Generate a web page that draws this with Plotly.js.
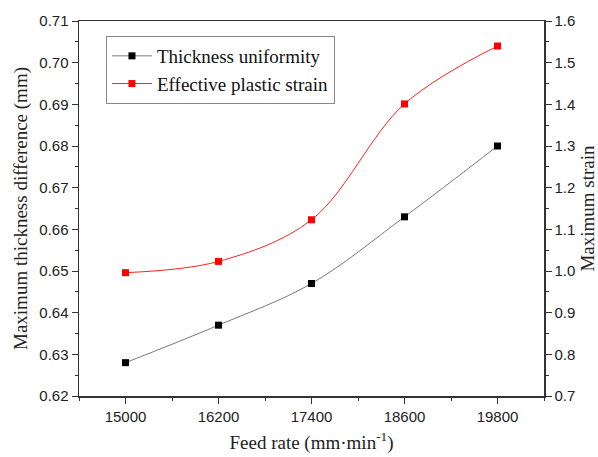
<!DOCTYPE html>
<html><head><meta charset="utf-8">
<script src="https://cdn.plot.ly/plotly-3.0.1.min.js"></script>
<style>html,body{margin:0;padding:0;background:#fff}#chart{width:598px;height:457px}</style>
</head><body><div id="chart"></div>
<script>
const feedRate = [15000, 16200, 17400, 18600, 19800];
const thicknessDiff = [0.628, 0.637, 0.647, 0.663, 0.680];
const plasticStrain = [0.996, 1.023, 1.123, 1.401, 1.540];
const xTicks = [15000, 16200, 17400, 18600, 19800];

const serif = '"Liberation Serif", "Times New Roman", serif';
const sans = '"Liberation Sans", Arial, sans-serif';
const axisCol = '#333333';

const traces = [
  {x: feedRate, y: thicknessDiff, name: 'Thickness uniformity', type: 'scatter', mode: 'lines+markers',
   line: {color: '#777777', width: 1, shape: 'spline'}, marker: {symbol: 'square', size: 7, color: '#000000'}},
  {x: feedRate, y: plasticStrain, name: 'Effective plastic strain', type: 'scatter', mode: 'lines+markers', yaxis: 'y2',
   line: {color: '#ff2020', width: 1, shape: 'spline'}, marker: {symbol: 'square', size: 7, color: '#ff0000'}}
];

const layout = {
  width: 598, height: 457,
  margin: {l: 79, r: 54, t: 21, b: 61},
  paper_bgcolor: '#fff', plot_bgcolor: '#fff',
  showlegend: true,
  legend: {x: 0.058, y: 0.96, xanchor: 'left', yanchor: 'top', bgcolor: '#fff', bordercolor: '#888', borderwidth: 1,
           font: {family: serif, size: 19, color: '#111'}, tracegroupgap: 0, itemwidth: 40},
  xaxis: {range: [14400, 20400], tickvals: xTicks, ticktext: xTicks.map(String), ticks: 'outside', ticklen: 6, tickcolor: axisCol,
          showline: true, linecolor: axisCol, linewidth: 1.5, mirror: true, showgrid: false, zeroline: false,
          tickfont: {family: sans, size: 15, color: '#222'},
          minor: {dtick: 600, tick0: 14400, ticks: 'outside', ticklen: 3, tickcolor: axisCol},
          title: {text: 'Feed rate (mm·min<sup>-1</sup>)', font: {family: serif, size: 19, color: '#222'}, standoff: 12}},
  yaxis: {range: [0.62, 0.71], dtick: 0.01, tickformat: '.2f', ticks: 'outside', ticklen: 6, tickcolor: axisCol,
          showline: true, linecolor: axisCol, linewidth: 1.5, showgrid: false, zeroline: false,
          tickfont: {family: sans, size: 15, color: '#222'},
          minor: {dtick: 0.005, ticks: 'outside', ticklen: 3, tickcolor: axisCol},
          title: {text: 'Maximum thickness difference (mm)', font: {family: serif, size: 19, color: '#222'}, standoff: 6}},
  yaxis2: {range: [0.7, 1.6], dtick: 0.1, tickformat: '.1f', overlaying: 'y', side: 'right', ticks: 'outside', ticklen: 6, tickcolor: axisCol,
           showline: true, linecolor: axisCol, linewidth: 1.5, showgrid: false, zeroline: false,
           tickfont: {family: sans, size: 15, color: '#222'},
           minor: {dtick: 0.05, ticks: 'outside', ticklen: 3, tickcolor: axisCol},
           title: {text: 'Maximum strain', font: {family: serif, size: 19, color: '#222'}, standoff: 8}}
};

Plotly.newPlot('chart', traces, layout, {displayModeBar: false, staticPlot: true});
</script></body></html>
